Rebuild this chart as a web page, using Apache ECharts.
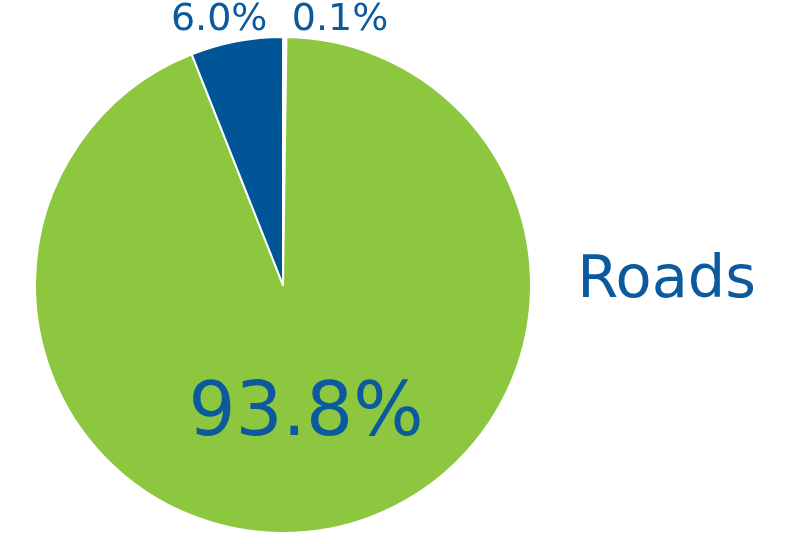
<!DOCTYPE html>
<html><head><meta charset="utf-8">
<script src="https://cdn.jsdelivr.net/npm/echarts@6/dist/echarts.min.js"></script>
<style>html,body{margin:0;padding:0;background:#fff}#c{width:794px;height:544px}</style>
</head><body><div id="c"></div>
<script>
const categories = ['Other', 'Roads', 'Rail'];
const values = [0.1, 93.8, 6.0];
const colors = ['#ffffff', '#8DC63F', '#005596'];
const legendItems = ['Roads'];
const textColor = '#0B5A9E';
const font = 'DejaVu Sans';

const chart = echarts.init(document.getElementById('c'), null, {renderer: 'canvas'});
const labelOffsets = {Other: [3, -11], Rail: [36, -15]};
const data = categories.map((n, i) => {
  const d = {name: n, value: values[i], itemStyle: {color: colors[i]}};
  if (n === 'Roads') {
    d.label = {position: 'inside', fontSize: 74, offset: [0, 6]};
  } else {
    d.label = {position: 'outside', fontSize: 38, distanceToLabelLine: 0, offset: labelOffsets[n]};
  }
  return d;
});
chart.setOption({
  animation: false,
  legend: {
    data: legendItems, right: 33, top: 247, icon: 'none', itemWidth: 0, itemGap: 0,
    selectedMode: false,
    textStyle: {fontSize: 59, color: textColor, fontFamily: font, padding: 0}
  },
  series: [{
    type: 'pie',
    center: [283, 285],
    radius: 248,
    startAngle: 90,
    clockwise: true,
    minAngle: 0.8,
    avoidLabelOverlap: false,
    itemStyle: {borderColor: '#fff', borderWidth: 2},
    label: {
      show: true, color: textColor, fontFamily: font,
      formatter: p => p.value.toFixed(1) + '%'
    },
    labelLine: {show: false, length: 6, length2: 4},
    emphasis: {disabled: true},
    data: data
  }]
});
</script></body></html>
